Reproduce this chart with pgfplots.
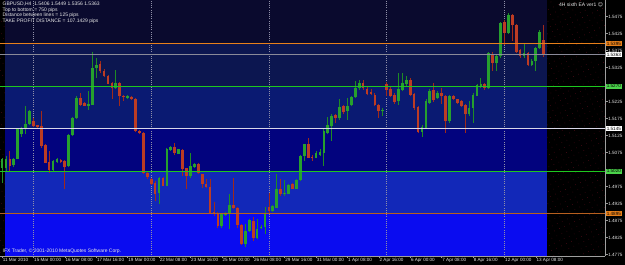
\documentclass[border=0pt]{standalone}
\usepackage{fontspec}
\setmainfont{Liberation Sans}
\newfontfamily\dejavu{DejaVu Sans}
\usepackage{pgfplots}
\usepackage{pgfplotstable}
\pgfplotsset{compat=1.18}
\usetikzlibrary{patterns.meta}

\definecolor{band0}{HTML}{0A0A2E}
\definecolor{band1}{HTML}{0C1650}
\definecolor{band2}{HTML}{0A1A72}
\definecolor{band3}{HTML}{02037E}
\definecolor{band4}{HTML}{1228B8}
\definecolor{band5}{HTML}{0A0CF0}
\definecolor{dotred}{HTML}{6A1020}
\definecolor{lvorange}{HTML}{E8801A}
\definecolor{lvorange2}{HTML}{B8601E}
\definecolor{lvgreen}{HTML}{1EC81E}
\definecolor{lvwhite}{HTML}{D8D8E8}
\definecolor{bidgray}{HTML}{8A8A99}
\definecolor{gridgray}{HTML}{9090A8}
\definecolor{bodyup}{HTML}{26A02E}
\definecolor{wickup}{HTML}{1E8C24}
\definecolor{bodydn}{HTML}{BC3C24}
\definecolor{wickdn}{HTML}{A02A1A}
\definecolor{txt}{HTML}{E6E6E6}

\pgfplotstableread{
i o h l c
0 1.5030 1.5060 1.4986 1.5055
1 1.5030 1.5065 1.5021 1.5055
2 1.5055 1.5079 1.5021 1.5035
3 1.5038 1.5060 1.5032 1.5055
4 1.5055 1.5148 1.5055 1.5143
5 1.5128 1.5150 1.5121 1.5143
6 1.5143 1.5211 1.5128 1.5159
7 1.5159 1.5201 1.5157 1.5198
8 1.5167 1.5175 1.5150 1.5152
9 1.5155 1.5157 1.5148 1.5150
10 1.5152 1.5196 1.5089 1.5094
11 1.5097 1.5099 1.5045 1.5045
12 1.5047 1.5079 1.5016 1.5023
13 1.5023 1.5053 1.5020 1.5050
14 1.5048 1.5058 1.5045 1.5055
15 1.5053 1.5055 1.5045 1.5047
16 1.5050 1.5053 1.4967 1.5032
17 1.5035 1.5128 1.5033 1.5126
18 1.5126 1.5180 1.5124 1.5177
19 1.5177 1.5240 1.5174 1.5236
20 1.5236 1.5250 1.5211 1.5216
21 1.5221 1.5224 1.5211 1.5213
22 1.5211 1.5257 1.5201 1.5218
23 1.5216 1.5372 1.5214 1.5323
24 1.5323 1.5352 1.5294 1.5333
25 1.5335 1.5345 1.5309 1.5314
26 1.5316 1.5320 1.5297 1.5299
27 1.5299 1.5302 1.5275 1.5277
28 1.5279 1.5281 1.5231 1.5265
29 1.5265 1.5319 1.5263 1.5279
30 1.5279 1.5281 1.5211 1.5240
31 1.5242 1.5245 1.5226 1.5237
32 1.5236 1.5245 1.5231 1.5240
33 1.5237 1.5240 1.5228 1.5233
34 1.5233 1.5235 1.5136 1.5138
35 1.5138 1.5140 1.5128 1.5131
36 1.5133 1.5135 1.5013 1.5016
37 1.5016 1.5018 1.4998 1.5003
38 1.4996 1.5001 1.4980 1.4983
39 1.4986 1.4991 1.4933 1.4952
40 1.4957 1.5003 1.4923 1.5001
41 1.5001 1.5003 1.4975 1.4977
42 1.4977 1.5089 1.4975 1.5086
43 1.5081 1.5094 1.5079 1.5091
44 1.5091 1.5104 1.5069 1.5074
45 1.5072 1.5086 1.5070 1.5084
46 1.5081 1.5084 1.5006 1.5025
47 1.5028 1.5030 1.4967 1.5006
48 1.5006 1.5074 1.5001 1.5035
49 1.5032 1.5043 1.5030 1.5040
50 1.5040 1.5043 1.5013 1.5016
51 1.5011 1.5013 1.4972 1.4981
52 1.4981 1.4996 1.4972 1.4973
53 1.4974 1.4996 1.4894 1.4898
54 1.4900 1.4928 1.4889 1.4894
55 1.4898 1.4900 1.4854 1.4859
56 1.4859 1.4898 1.4854 1.4894
57 1.4891 1.4901 1.4889 1.4896
58 1.4894 1.4952 1.4850 1.4921
59 1.4921 1.5000 1.4908 1.4911
60 1.4913 1.4916 1.4854 1.4862
61 1.4862 1.4864 1.4803 1.4806
62 1.4806 1.4864 1.4796 1.4845
63 1.4843 1.4879 1.4840 1.4876
64 1.4874 1.4884 1.4815 1.4823
65 1.4823 1.4879 1.4820 1.4850
66 1.4852 1.4862 1.4850 1.4857
67 1.4857 1.4914 1.4835 1.4894
68 1.4914 1.4957 1.4894 1.4904
69 1.4904 1.4921 1.4899 1.4918
70 1.4913 1.5011 1.4911 1.4969
71 1.4969 1.4996 1.4947 1.4952
72 1.4952 1.4993 1.4947 1.4957
73 1.4954 1.4983 1.4952 1.4980
74 1.4981 1.4986 1.4967 1.4969
75 1.4969 1.4996 1.4967 1.4994
76 1.4994 1.5067 1.4991 1.5065
77 1.5065 1.5101 1.5050 1.5099
78 1.5099 1.5118 1.5058 1.5060
79 1.5062 1.5067 1.5050 1.5058
80 1.5060 1.5079 1.5058 1.5074
81 1.5069 1.5084 1.5065 1.5077
82 1.5074 1.5143 1.5035 1.5138
83 1.5133 1.5179 1.5128 1.5155
84 1.5152 1.5187 1.5109 1.5182
85 1.5184 1.5187 1.5162 1.5175
86 1.5175 1.5231 1.5172 1.5208
87 1.5211 1.5214 1.5187 1.5194
88 1.5198 1.5236 1.5172 1.5213
89 1.5214 1.5240 1.5211 1.5237
90 1.5237 1.5284 1.5236 1.5265
91 1.5265 1.5289 1.5260 1.5279
92 1.5279 1.5289 1.5260 1.5265
93 1.5262 1.5267 1.5243 1.5247
94 1.5253 1.5262 1.5245 1.5248
95 1.5245 1.5250 1.5211 1.5214
96 1.5216 1.5218 1.5177 1.5196
97 1.5196 1.5206 1.5182 1.5201
98 1.5277 1.5282 1.5240 1.5260
99 1.5263 1.5267 1.5238 1.5240
100 1.5245 1.5250 1.5218 1.5224
101 1.5226 1.5309 1.5216 1.5263
102 1.5260 1.5309 1.5255 1.5279
103 1.5275 1.5299 1.5272 1.5289
104 1.5289 1.5294 1.5240 1.5245
105 1.5247 1.5250 1.5201 1.5206
106 1.5208 1.5211 1.5133 1.5136
107 1.5136 1.5157 1.5120 1.5150
108 1.5148 1.5231 1.5146 1.5226
109 1.5221 1.5262 1.5218 1.5257
110 1.5260 1.5279 1.5224 1.5228
111 1.5234 1.5255 1.5231 1.5250
112 1.5250 1.5265 1.5218 1.5240
113 1.5240 1.5245 1.5133 1.5167
114 1.5167 1.5245 1.5162 1.5240
115 1.5240 1.5245 1.5228 1.5231
116 1.5231 1.5233 1.5218 1.5221
117 1.5226 1.5228 1.5208 1.5211
118 1.5216 1.5218 1.5133 1.5187
119 1.5187 1.5226 1.5182 1.5206
120 1.5206 1.5250 1.5162 1.5245
121 1.5242 1.5275 1.5240 1.5273
122 1.5267 1.5294 1.5265 1.5275
123 1.5275 1.5279 1.5260 1.5265
124 1.5265 1.5372 1.5263 1.5368
125 1.5365 1.5370 1.5314 1.5338
126 1.5338 1.5362 1.5314 1.5358
127 1.5358 1.5460 1.5353 1.5455
128 1.5460 1.5465 1.5392 1.5426
129 1.5426 1.5485 1.5424 1.5480
130 1.5480 1.5482 1.5402 1.5449
131 1.5451 1.5453 1.5368 1.5372
132 1.5377 1.5380 1.5353 1.5358
133 1.5358 1.5397 1.5353 1.5368
134 1.5368 1.5370 1.5329 1.5333
135 1.5333 1.5350 1.5329 1.5343
136 1.5343 1.5385 1.5314 1.5382
137 1.5382 1.5435 1.5380 1.5429
138 1.5406 1.5449 1.5356 1.5363
}\candles

\begin{document}
\begin{tikzpicture}
\fill[black] (0,-9pt) rectangle (625pt,256pt);
\begin{axis}[
  name=ax,
  at={(0,0)}, anchor=south west,
  scale only axis,
  width=605pt, height=256pt,
  xmin=-0.51, xmax=153.63,
  ymin=1.47706, ymax=1.55235,
  axis background/.style={fill=black},
  axis x line*=bottom, axis y line*=right,
  axis line style={draw=gray!75, line width=0.6pt},
  clip mode=individual,
  xtick={0,8,...,136},
  xticklabels={11 Mar 2010,15 Mar 00:00,16 Mar 08:00,17 Mar 16:00,19 Mar 00:00,22 Mar 08:00,23 Mar 16:00,25 Mar 00:00,26 Mar 08:00,29 Mar 16:00,31 Mar 00:00,1 Apr 08:00,2 Apr 16:00,6 Apr 00:00,7 Apr 08:00,8 Apr 16:00,12 Apr 00:00,13 Apr 08:00},
  ytick={1.4775,1.4825,1.4875,1.4925,1.4975,1.5075,1.5125,1.5175,1.5225,1.5325,1.5375,1.5425,1.5475},
  yticklabels={1.4775,1.4825,1.4875,1.4925,1.4975,1.5075,1.5125,1.5175,1.5225,1.5325,1.5375,1.5425,1.5475},
  tick align=outside,
  major tick length=2.5pt,
  tick style={draw=gray!80, line width=0.4pt},
  ticklabel style={font=\fontsize{4.6}{5}\selectfont, text=txt},
  xticklabel style={anchor=north west, inner sep=0.6pt, yshift=0.6pt},
  yticklabel style={anchor=west, inner sep=0.6pt},
]
% dotted background
\addplot[draw=none, forget plot, pattern={Dots[radius=0.35pt, distance=5.5pt, angle=25]}, pattern color=dotred]
  coordinates {(-1,1.46) (160,1.46) (160,1.56) (-1,1.56)} -- cycle;
% bands
\addplot[draw=none, fill=band0, forget plot] coordinates {(0.76,1.5395) (138.85,1.5395) (138.85,1.56) (0.76,1.56)} -- cycle;
\addplot[draw=none, fill=band1, forget plot] coordinates {(0.76,1.5270) (138.85,1.5270) (138.85,1.5395) (0.76,1.5395)} -- cycle;
\addplot[draw=none, fill=band2, forget plot] coordinates {(0.76,1.5145) (138.85,1.5145) (138.85,1.5270) (0.76,1.5270)} -- cycle;
\addplot[draw=none, fill=band3, forget plot] coordinates {(0.76,1.5020) (138.85,1.5020) (138.85,1.5145) (0.76,1.5145)} -- cycle;
\addplot[draw=none, fill=band4, forget plot] coordinates {(0.76,1.4895) (138.85,1.4895) (138.85,1.5020) (0.76,1.5020)} -- cycle;
\addplot[draw=none, fill=band5, forget plot] coordinates {(0.76,1.46) (138.85,1.46) (138.85,1.4895) (0.76,1.4895)} -- cycle;
% vertical dotted grid
\pgfplotsinvokeforeach{8,38,68,98,128}{
  \addplot[draw=gridgray, line width=0.5pt, dash pattern=on 0.8pt off 1.4pt, forget plot] coordinates {(#1,1.46) (#1,1.56)};
}
% candles: up
\addplot[draw=none, mark=none, forget plot,
  restrict expr to domain={\thisrow{c}-\thisrow{o}}{0:1},
  error bars/.cd, y dir=plus, y explicit, error mark=none,
  error bar style={draw=wickup, line width=0.8pt}]
  table[x=i, y=l, y error expr={\thisrow{h}-\thisrow{l}}] {\candles};
\addplot[draw=none, mark=none, forget plot,
  restrict expr to domain={\thisrow{c}-\thisrow{o}}{0:1},
  error bars/.cd, y dir=plus, y explicit, error mark=none,
  error bar style={draw=bodyup, line width=2.7pt}]
  table[x=i, y=o, y error expr={max(\thisrow{c}-\thisrow{o},0.00012)}] {\candles};
% candles: down
\addplot[draw=none, mark=none, forget plot,
  restrict expr to domain={\thisrow{c}-\thisrow{o}}{-1:-0.00001},
  error bars/.cd, y dir=plus, y explicit, error mark=none,
  error bar style={draw=wickdn, line width=0.8pt}]
  table[x=i, y=l, y error expr={\thisrow{h}-\thisrow{l}}] {\candles};
\addplot[draw=none, mark=none, forget plot,
  restrict expr to domain={\thisrow{c}-\thisrow{o}}{-1:-0.00001},
  error bars/.cd, y dir=plus, y explicit, error mark=none,
  error bar style={draw=bodydn, line width=2.7pt}]
  table[x=i, y=c, y error expr={max(\thisrow{o}-\thisrow{c},0.00012)}] {\candles};
% level lines
\addplot[draw=lvorange, line width=1.5pt, forget plot] coordinates {(-1,1.5395) (160,1.5395)};
\addplot[draw=bidgray, line width=0.6pt, forget plot] coordinates {(-1,1.5363) (160,1.5363)};
\addplot[draw=lvgreen, line width=1.3pt, forget plot] coordinates {(-1,1.5270) (160,1.5270)};
\addplot[draw=lvwhite, line width=1.3pt, forget plot] coordinates {(-1,1.5145) (160,1.5145)};
\addplot[draw=lvgreen, line width=1.3pt, forget plot] coordinates {(-1,1.5020) (160,1.5020)};
\addplot[draw=lvorange2, line width=1.5pt, forget plot] coordinates {(-1,1.4895) (160,1.4895)};
% price boxes
\tikzset{pbox/.style={anchor=west, inner xsep=1pt, inner ysep=0.9pt, text=black, font=\fontsize{4.6}{5}\selectfont, xshift=0.6pt}}
\node[pbox, fill=lvorange] at (axis cs:153.63,1.5395) {1.5395};
\node[pbox, fill=white] at (axis cs:153.63,1.5363) {1.5363};
\node[pbox, fill=lvgreen!80!white] at (axis cs:153.63,1.5270) {1.5270};
\node[pbox, fill=white] at (axis cs:153.63,1.5145) {1.5145};
\node[pbox, fill=lvgreen!80!white] at (axis cs:153.63,1.5020) {1.5020};
\node[pbox, fill=lvorange] at (axis cs:153.63,1.4895) {1.4895};
% overlay texts
\node[anchor=north west, align=left, inner sep=0pt, text=txt, font=\fontsize{5}{5.6}\selectfont] at (rel axis cs:0.004,0.992)
  {GBPUSD,H4\ \ 1.5406 1.5449 1.5356 1.5363\\Top to bottom = 750 pips\\Distance between lines = 125 pips\\TAKE PROFIT DISTANCE = 107.1429 pips};
\node[anchor=north east, inner sep=0pt, text=txt, font=\fontsize{5}{5.6}\selectfont] at (rel axis cs:0.997,0.992)
  {4H sixth EA ver1 {\dejavu ☺}};
\node[anchor=south west, inner sep=0pt, text=txt, font=\fontsize{5}{5.6}\selectfont] at (rel axis cs:0.004,0.01)
  {IFX Trader, \textcopyright{} 2001-2010 MetaQuotes Software Corp.};
\end{axis}
\pgfresetboundingbox
\path[use as bounding box] (0,-9pt) rectangle (625pt,256pt);
\end{tikzpicture}
\end{document}
